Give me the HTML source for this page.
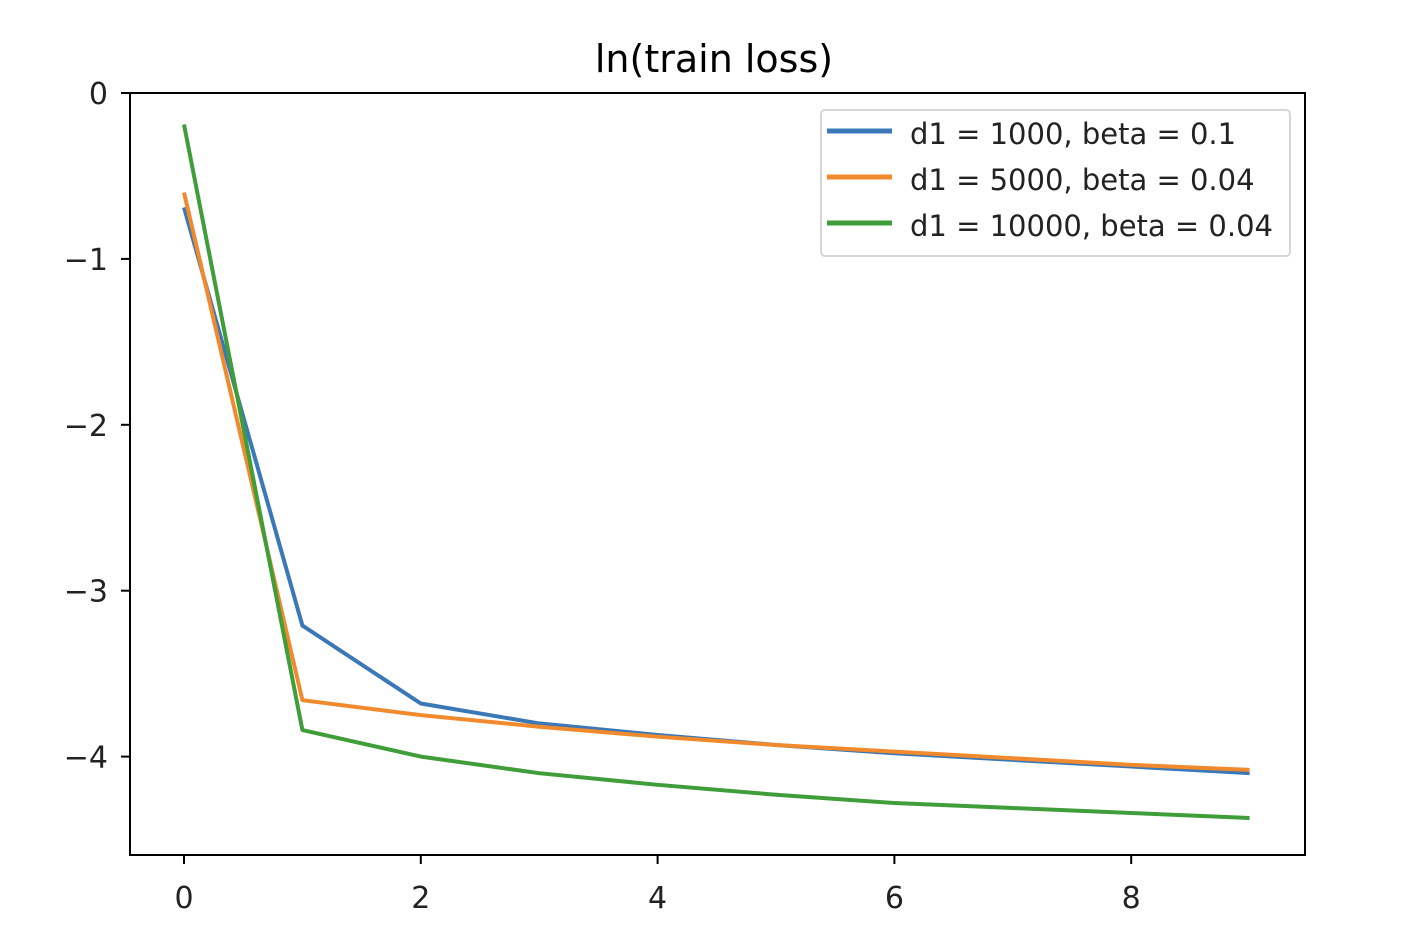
<!DOCTYPE html>
<html><head><meta charset="utf-8"><style>
html,body{margin:0;padding:0;background:#fff;}
svg{display:block;font-family:"DejaVu Sans","Liberation Sans",sans-serif;}
</style></head><body>
<svg id="chart" width="1418" height="952" viewBox="0 0 1418 952" xmlns="http://www.w3.org/2000/svg"></svg>
<script>
const xValues=[0,1,2,3,4,5,6,7,8,9];
const seriesBlue=[-0.69,-3.21,-3.68,-3.80,-3.87,-3.93,-3.98,-4.02,-4.06,-4.10];
const seriesOrange=[-0.60,-3.66,-3.75,-3.82,-3.88,-3.93,-3.97,-4.01,-4.05,-4.08];
const seriesGreen=[-0.19,-3.84,-4.00,-4.10,-4.17,-4.23,-4.28,-4.31,-4.34,-4.37];
const xTicks=[0,2,4,6,8];
const yTicks=[0,-1,-2,-3,-4];
const seriesLabels=["d1 = 1000, beta = 0.1","d1 = 5000, beta = 0.04","d1 = 10000, beta = 0.04"];
const NS="http://www.w3.org/2000/svg";
const svg=document.getElementById('chart');
const L=130,R=1305,T=93,B=855;
const xs=v=>184+v*118.4;
const ys=v=>93-v*165.9;
function mk(tag,attrs,parent){const e=document.createElementNS(NS,tag);for(const k in attrs)e.setAttribute(k,attrs[k]);(parent||svg).appendChild(e);return e;}
const title=mk('text',{x:714,y:72,'text-anchor':'middle','font-size':38,fill:'#000'});


title.textContent='ln(train loss)';
const colors=['#3a78b8','#f08a2c','#3f9e3a'];
const all=[seriesBlue,seriesOrange,seriesGreen];
const names=['series-blue-line','series-orange-line','series-green-line'];
all.forEach((s,i)=>{
 const p=mk('polyline',{points:s.map((v,j)=>xs(xValues[j])+','+ys(v)).join(' '),fill:'none',stroke:colors[i],'stroke-width':4,'stroke-linejoin':'round'});
 
 
});
const frame=mk('rect',{x:L,y:T,width:R-L,height:B-T,fill:'none',stroke:'#000','stroke-width':2});


xTicks.forEach(t=>{
 const x=xs(t);
 const ln=mk('line',{x1:x,y1:B,x2:x,y2:B+9,stroke:'#000','stroke-width':2});
 
 
 const tx=mk('text',{x:x,y:908,'text-anchor':'middle','font-size':30,fill:'#222'});
 
 
 tx.textContent=t;
});
yTicks.forEach(t=>{
 const y=ys(t);
 const ln=mk('line',{x1:L-9,y1:y,x2:L,y2:y,stroke:'#000','stroke-width':2});
 
 
 const tx=mk('text',{x:108,y:y+11,'text-anchor':'end','font-size':30,fill:'#222'});
 
 
 tx.textContent=t<0?'\u2212'+Math.abs(t):String(t);
});
const lg=mk('g',{});


mk('rect',{x:821,y:110,width:469,height:146,rx:4,fill:'#fff',stroke:'#d6d6d6','stroke-width':2},lg);
seriesLabels.forEach((lab,i)=>{
 const y=131+i*46;
 const l=mk('line',{x1:827,y1:y,x2:892,y2:y,stroke:colors[i],'stroke-width':5},lg);
 
 
 const tx=mk('text',{x:910,y:y+13,'font-size':29,fill:'#222'},lg);
 
 
 tx.textContent=lab;
});
</script>
</body></html>
